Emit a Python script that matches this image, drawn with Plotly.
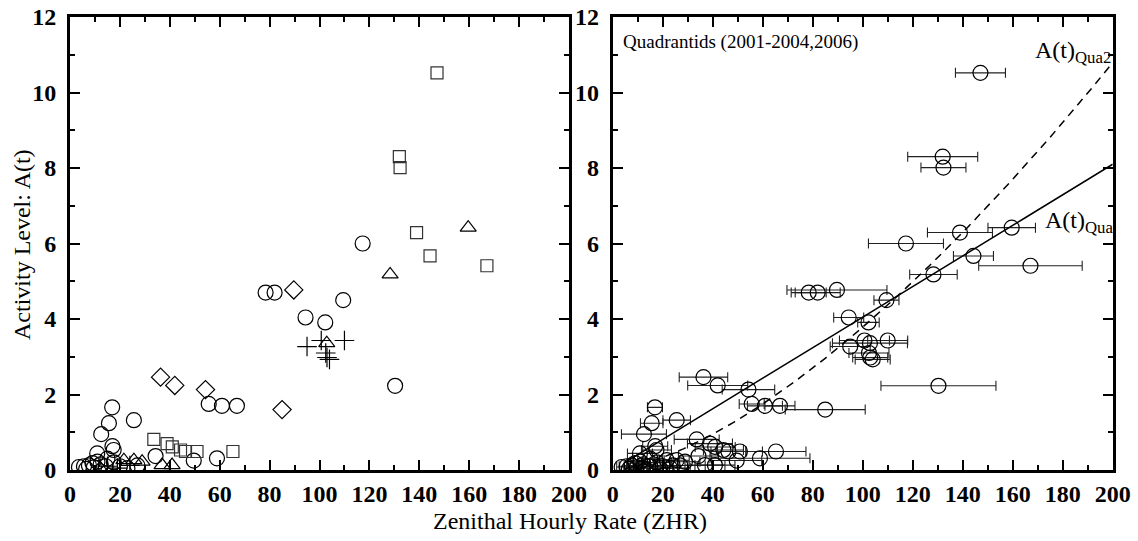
import plotly.graph_objects as go

# ---------------- data (ZHR, A(t), ZHR uncertainty) ----------------
circ_x = [117.3, 109.5, 94.4, 102.3, 130.3, 78.4, 82.0, 55.6, 60.9, 66.9,
          16.9, 15.6, 25.6, 12.5, 17.0, 17.5, 10.9, 34.3, 49.6, 58.9,
          3.6, 5.6, 7.6, 9.6, 12.3, 14.3, 17.6, 20.0, 6.5, 11.0, 23.0, 15.0, 27.0, 9.0]
circ_y = [6.00, 4.50, 4.04, 3.91, 2.23, 4.70, 4.70, 1.75, 1.70, 1.70,
          1.66, 1.24, 1.32, 0.95, 0.63, 0.53, 0.44, 0.37, 0.25, 0.31,
          0.08, 0.10, 0.12, 0.07, 0.15, 0.10, 0.20, 0.10, 0.03, 0.22, 0.05, 0.30, 0.12, 0.18]
circ_e = [15, 5, 6, 4.3, 23, 7, 9, 5, 7, 6,
          3, 4.5, 5.5, 9, 5, 6, 5, 8, 10, 20,
          2, 3, 3, 4, 4, 5, 6, 6, 2, 4, 8, 5, 10, 3]

sq_x = [147.1, 132.0, 132.3, 138.9, 144.3, 167.1, 33.6, 38.9, 41.0, 44.3, 46.3, 50.9, 65.3]
sq_y = [10.52, 8.30, 8.01, 6.29, 5.67, 5.41, 0.81, 0.70, 0.61, 0.53, 0.49, 0.49, 0.49]
sq_e = [10, 14, 9, 13, 8, 20.7, 9, 9, 8, 8, 7, 9, 12]

tri_x = [159.6, 128.3, 102.9, 21.6, 25.6, 28.9, 36.9, 40.9, 12.0]
tri_y = [6.42, 5.18, 3.36, 0.26, 0.26, 0.22, 0.13, 0.13, 0.05]
tri_e = [9.5, 9.5, 15, 5, 5, 6, 8, 8, 3]

dia_x = [89.7, 36.3, 42.0, 54.3, 85.0]
dia_y = [4.77, 2.46, 2.24, 2.13, 1.60]
dia_e = [20, 9.7, 12, 10.5, 16]

plus_x = [95.0, 100.7, 102.5, 103.0, 104.0, 110.0, 15.0, 19.0, 24.0]
plus_y = [3.27, 3.43, 3.10, 2.98, 2.93, 3.43, 0.10, 0.05, 0.12]
plus_e = [8, 10, 8, 7, 7, 8, 4, 5, 6]

# fitted relations A(t)_Qua (solid) and A(t)_Qua2 (dashed)
QUA_COEF, QUA_EXP = 0.0405, 1.0
QUA2_COEF, QUA2_EXP = 0.00358, 1.512
FIT_ZHR = [5 + i * 0.5 for i in range(391)]

x_ticks = list(range(0, 201, 20))
y_ticks = list(range(0, 13, 2))

# ---------------- figure ----------------
W, H = 1138, 541
SERIF = "Times New Roman, Liberation Serif, DejaVu Serif, serif"
fig = go.Figure()

def sym_trace(xs, ys, symbol, size, color="black", lw=1.2):
    return go.Scatter(x=xs, y=ys, mode="markers", xaxis="x", yaxis="y",
                      marker=dict(symbol=symbol, size=size, color=color,
                                  line=dict(width=lw, color=color)),
                      showlegend=False, hoverinfo="x+y")

fig.add_trace(sym_trace(circ_x, circ_y, "circle-open", 15))
fig.add_trace(sym_trace(sq_x, sq_y, "square-open", 12, "#333"))
fig.add_trace(sym_trace(tri_x, tri_y, "triangle-up-open", 14))
fig.add_trace(sym_trace(dia_x, dia_y, "diamond-open", 14))
fig.add_trace(sym_trace(plus_x, plus_y, "cross-thin-open", 14, lw=1.2))

all_x = circ_x + sq_x + tri_x + dia_x + plus_x
all_y = circ_y + sq_y + tri_y + dia_y + plus_y
all_e = circ_e + sq_e + tri_e + dia_e + plus_e

fig.add_trace(go.Scatter(
    x=all_x, y=all_y, mode="markers", xaxis="x2", yaxis="y2",
    marker=dict(symbol="circle-open", size=15, color="black", line=dict(width=1.2, color="black")),
    error_x=dict(type="data", array=all_e, symmetric=True, color="#222", thickness=1.1, width=5),
    showlegend=False))

fig.add_trace(go.Scatter(
    x=FIT_ZHR, y=[QUA_COEF * z ** QUA_EXP for z in FIT_ZHR], mode="lines",
    xaxis="x2", yaxis="y2", line=dict(color="black", width=1.5), showlegend=False))
fig.add_trace(go.Scatter(
    x=FIT_ZHR, y=[QUA2_COEF * z ** QUA2_EXP for z in FIT_ZHR], mode="lines",
    xaxis="x2", yaxis="y2", line=dict(color="black", width=1.5, dash="8px,6px"), showlegend=False))

tickfont = dict(family=SERIF, size=24, color="black", weight="bold")

def xax(dom):
    return dict(domain=dom, range=[0, 200], tickmode="array", tickvals=x_ticks,
                ticktext=[str(v) for v in x_ticks], ticks="inside", ticklen=10, tickwidth=1.5,
                tickcolor="black", showline=True, linewidth=3, linecolor="black",
                mirror="allticks", showgrid=False, zeroline=False, tickfont=tickfont,
                minor=dict(tickmode="linear", tick0=0, dtick=10, ticks="inside", ticklen=5,
                           tickwidth=1.5, tickcolor="black", showgrid=False),
                automargin=False, fixedrange=True)

def yax(anchor):
    return dict(domain=[1 - 470 / H, 1 - 17 / H], range=[0, 12], anchor=anchor,
                tickmode="array", tickvals=y_ticks, ticktext=[str(v) for v in y_ticks],
                ticks="inside", ticklen=10, tickwidth=1.5, tickcolor="black",
                showline=True, linewidth=3, linecolor="black", mirror="allticks",
                showgrid=False, zeroline=False, tickfont=tickfont, ticklabelstandoff=6,
                minor=dict(tickmode="linear", tick0=0, dtick=1, ticks="inside", ticklen=5,
                           tickwidth=1.5, tickcolor="black", showgrid=False),
                automargin=False, fixedrange=True)

fig.update_layout(
    width=W, height=H, margin=dict(l=0, r=0, t=0, b=0),
    paper_bgcolor="white", plot_bgcolor="white",
    font=dict(family=SERIF, color="black"),
    xaxis=dict(xax([70 / W, 569 / W]), anchor="y"),
    yaxis=yax("x"),
    xaxis2=dict(xax([612.7 / W, 1112.7 / W]), anchor="y2"),
    yaxis2=yax("x2"),
    annotations=[
        dict(text="Zenithal Hourly Rate (ZHR)", xref="paper", yref="paper",
             x=570 / W, y=1 - 521 / H, showarrow=False, font=dict(family=SERIF, size=24, color="black"),
             xanchor="center", yanchor="middle"),
        dict(text="Activity Level: A(t)", xref="paper", yref="paper", textangle=-90,
             x=22 / W, y=1 - 245 / H, showarrow=False, font=dict(family=SERIF, size=24, color="black"),
             xanchor="center", yanchor="middle"),
        dict(text="Quadrantids (2001-2004,2006)", xref="paper", yref="paper",
             x=621 / W, y=1 - 42 / H, showarrow=False, font=dict(family=SERIF, size=19, color="black"),
             xanchor="left", yanchor="middle"),
        dict(text="A(t)<sub>Qua2</sub>", xref="paper", yref="paper",
             x=1113 / W, y=1 - 52 / H, showarrow=False, font=dict(family=SERIF, size=24, color="black"),
             xanchor="right", yanchor="middle"),
        dict(text="A(t)<sub>Qua</sub>", xref="paper", yref="paper",
             x=1115 / W, y=1 - 222 / H, showarrow=False, font=dict(family=SERIF, size=24, color="black"),
             xanchor="right", yanchor="middle"),
    ],
)

fig.write_html("out.html")
